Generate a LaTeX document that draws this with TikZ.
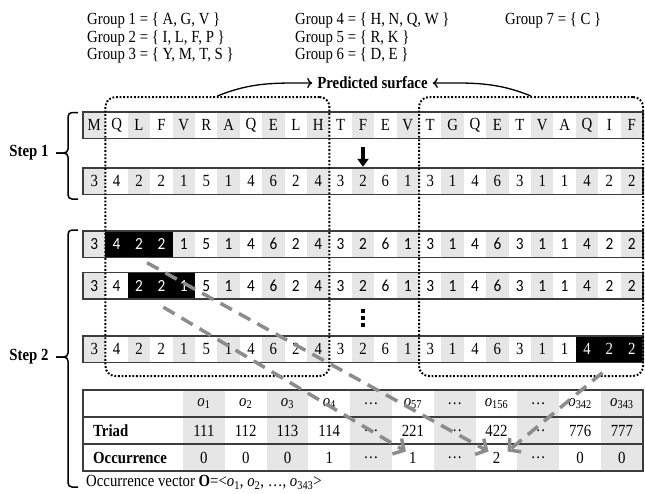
\documentclass[tikz,border=0pt]{standalone}
\usepackage{fontspec}
\setmainfont[FakeStretch=0.87]{Liberation Serif}
\newfontfamily\calib[FakeStretch=0.9]{Carlito}
\usetikzlibrary{arrows.meta}
\definecolor{cellgray}{HTML}{E6E6E6}
\definecolor{rowline}{HTML}{3C3C3C}
\definecolor{dashgray}{HTML}{8C8C8C}
\AtBeginDocument{\fontsize{17}{20}\selectfont}
\tikzset{
  cell/.style={minimum width=22.4pt, minimum height=26.5pt, inner sep=0pt, draw=none},
  rowborder/.style={draw=rowline, line width=1.5pt},
  tcell/.style={minimum width=41.8pt, minimum height=27pt, inner sep=0pt, draw=none},
  dotbox/.style={draw=black, line width=2pt, dash pattern=on 1.8pt off 1.8pt, rounded corners=10pt, inner sep=0pt},
  bracestyle/.style={draw=black, line width=1.5pt, rounded corners=4pt},
  surfarrow/.style={draw=black, line width=1.3pt, -{To[length=5pt,width=10pt]}},
  triarrow/.style={draw=dashgray, line width=3.5pt, dash pattern=on 13pt off 8pt, -{Straight Barb[length=8pt,width=18pt,line width=3.5pt]}},
  label/.style={inner sep=0pt, anchor=west},
}
\newcommand\seqrow[6]{%
  \foreach \t [count=\i from 0] in {#3} {
    \pgfmathtruncatemacro\isblack{(\i>=#4)&&(\i<=#5)}
    \pgfmathtruncatemacro\iseven{mod(\i,2)==0}
    \ifnum\isblack=1 \def\fc{black}\def\tc{white}\else
      \ifnum\iseven=1 \def\fc{cellgray}\else\def\fc{white}\fi
      \def\tc{black}\fi
    \node[cell, fill=\fc, text=\tc, font=#6] (#1-\i) at ({83+22.4*\i+11.2},{#2+13.25}) {\t};
  }
  \draw[rowborder] (#1-0.north west) rectangle (#1-24.south east);
}
\begin{document}
\begin{tikzpicture}[x=1pt,y=-1pt]
\useasboundingbox (0,0) rectangle (645,493);
% groups
\node[label] (g1) at (87,20) {Group 1 = \{ A, G, V \}};
\node[label] (g2) at (87,38) {Group 2 = \{ I, L, F, P \}};
\node[label] (g3) at (87,55.5) {Group 3 = \{ Y, M, T, S \}};
\node[label] (g4) at (295,20) {Group 4 = \{ H, N, Q, W \}};
\node[label] (g5) at (295,38) {Group 5 = \{ R, K \}};
\node[label] (g6) at (295,55.5) {Group 6 = \{ D, E \}};
\node[label] (g7) at (505,20) {Group 7 = \{ C \}};
% rows
\seqrow{ra}{112}{M,Q,L,F,V,R,A,Q,E,L,H,T,F,E,V,T,G,Q,E,T,V,A,Q,I,F}{-1}{-1}{\rmfamily}
\seqrow{rb}{168}{3,4,2,2,1,5,1,4,6,2,4,3,2,6,1,3,1,4,6,3,1,1,4,2,2}{-1}{-1}{\rmfamily}
\seqrow{rc}{231}{3,4,2,2,1,5,1,4,6,2,4,3,2,6,1,3,1,4,6,3,1,1,4,2,2}{1}{3}{\calib}
\seqrow{rd}{272.5}{3,4,2,2,1,5,1,4,6,2,4,3,2,6,1,3,1,4,6,3,1,1,4,2,2}{2}{4}{\calib}
\seqrow{re}{336}{3,4,2,2,1,5,1,4,6,2,4,3,2,6,1,3,1,4,6,3,1,1,4,2,2}{22}{24}{\rmfamily}
% step 1 down arrow
\draw[line width=3.2pt, -{Triangle[length=8pt,width=11pt]}] ([yshift=-8pt]ra-12.south) -- ([yshift=1pt]rb-12.north);
% vertical dots
\foreach \k/\yy in {1/311,2/318,3/325} {
  \node[fill=black, minimum size=3.8pt, inner sep=0pt] (vd\k) at (363,\yy) {};
}
% table
\foreach \j in {0,2,4,6,8,10} {
  \fill[cellgray] ({183+41.8*\j},390) rectangle ({183+41.8*(\j+1)},471);
}
\foreach \h [count=\j from 0] in {\textit{o}\textsubscript{1},\textit{o}\textsubscript{2},\textit{o}\textsubscript{3},\textit{o}\textsubscript{4},\dots,\textit{o}\textsubscript{57},\dots,\textit{o}\textsubscript{156},\dots,\textit{o}\textsubscript{342},\textit{o}\textsubscript{343}} {
  \node[tcell] (ta-\j) at ({183+41.8*\j+20.9},403.5) {\h};
}
\foreach \h [count=\j from 0] in {111,112,113,114,\dots,221,\dots,422,\dots,776,777} {
  \node[tcell] (tb-\j) at ({183+41.8*\j+20.9},430.5) {\h};
}
\foreach \h [count=\j from 0] in {0,0,0,1,\dots,1,\dots,2,\dots,0,0} {
  \node[tcell] (tc-\j) at ({183+41.8*\j+20.9},457.5) {\h};
}
\node[label, font=\bfseries] (triad) at (93,430.5) {Triad};
\node[label, font=\bfseries] (occ) at (93,457.5) {Occurrence};
\draw[rowborder] (83,390) rectangle (643,471);
\draw[rowborder] (83,417) -- (643,417);
\draw[rowborder] (83,444) -- (643,444);
% bottom text
\node[label] (vec) at (86,482.5) {Occurrence vector \textbf{O}=<\textit{o}\textsubscript{1}, \textit{o}\textsubscript{2}, \dots, \textit{o}\textsubscript{343}>};
% dotted boxes
\node[dotbox, minimum width=224pt, minimum height=279pt] (boxL) at (217.4,236.5) {};
\node[dotbox, minimum width=224pt, minimum height=279pt] (boxR) at (531,236.5) {};
% predicted surface
\node[font=\bfseries, inner sep=1pt] (ps) at (372.5,83) {Predicted surface};
\draw[surfarrow] (boxL.north) to[out=22,in=180] ([xshift=-4pt]ps.west);
\draw[surfarrow] (boxR.north) to[out=158,in=0] ([xshift=4pt]ps.east);
% steps
\node[font=\bfseries, inner sep=0pt] (s1) at (29,153) {Step 1};
\node[font=\bfseries, inner sep=0pt] (s2) at (29,357) {Step 2};
\draw[bracestyle] (78,112.5) -- (68,112.5) -- (68,153) -- (56,153);
\draw[bracestyle] (78,199) -- (68,199) -- (68,153) -- (56,153);
\draw[bracestyle] (78,230) -- (68,230) -- (68,357) -- (56,357);
\draw[bracestyle] (78,487) -- (68,487) -- (68,357) -- (56,357);
% triad arrows
\draw[triarrow] ([xshift=8pt,yshift=-5pt]rc-2.south) -- ([xshift=-8pt,yshift=6pt]tc-7.center);
\draw[triarrow] ([xshift=2pt,yshift=-8pt]rd-3.south) -- ([xshift=-7pt,yshift=6pt]tc-5.center);
\draw[triarrow] ([xshift=-7pt,yshift=-10pt]re-23.south) -- ([xshift=11pt,yshift=6pt]tc-7.center);
\end{tikzpicture}
\end{document}
